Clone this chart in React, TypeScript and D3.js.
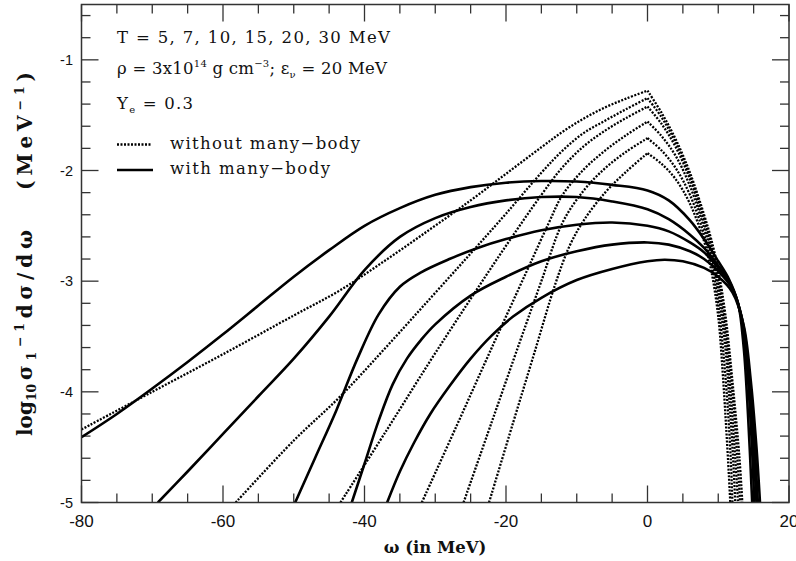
import React from "react";
import * as d3 from "d3";

const W = 796;
const H = 561;

// axis settings
const xDomain = [-80, 20];
const yDomain = [-5, -0.5];
const xMajor = [-80, -60, -40, -20, 0, 20];
const yMajor = [-5, -4, -3, -2, -1];

// temperatures labelled in the legend (MeV)
const temps = [5, 7, 10, 15, 20, 30];

// without many-body: [omega, log10 value]; left branch rises to the cusp at omega = 0, right branch falls from it
const freeT30L = [[-80, -4.34], [-70, -4.0], [-60, -3.66], [-50, -3.31], [-43.4, -3.08], [-37, -2.81], [-30.7, -2.53], [-25, -2.27], [-20, -2.03], [-15, -1.79], [-12, -1.65], [-9, -1.53], [-6, -1.43], [-3, -1.35], [0, -1.278]];
const freeT30R = [[0, -1.278], [2, -1.48], [4, -1.72], [6, -2.02], [8, -2.4], [9, -2.62], [10, -2.9], [11, -3.3], [12, -3.9], [13, -4.6], [13.4, -5]];
const freeT20L = [[-58.2, -5], [-50, -4.44], [-43.4, -4.04], [-37, -3.6], [-30.7, -3.155], [-25, -2.75], [-20, -2.39], [-15, -2.02], [-12, -1.82], [-9, -1.66], [-6, -1.55], [-3, -1.445], [0, -1.346]];
const freeT20R = [[0, -1.346], [2, -1.52], [4, -1.75], [6, -2.05], [8, -2.43], [9, -2.66], [10, -2.96], [11, -3.38], [12, -4.0], [12.7, -4.6], [13.1, -5]];
const freeT15L = [[-43.4, -5], [-37, -4.36], [-30.7, -3.72], [-25, -3.16], [-20, -2.68], [-15, -2.22], [-12, -1.97], [-9, -1.78], [-6, -1.64], [-3, -1.525], [0, -1.422]];
const freeT15R = [[0, -1.422], [2, -1.58], [4, -1.79], [6, -2.08], [8, -2.47], [9, -2.7], [10, -3.02], [11, -3.48], [11.8, -4.05], [12.4, -4.6], [12.8, -5]];
const freeT10L = [[-31.9, -5], [-27, -4.31], [-22, -3.6], [-17, -2.9], [-14, -2.48], [-12, -2.22], [-9, -1.99], [-6, -1.82], [-3, -1.68], [0, -1.558]];
const freeT10R = [[0, -1.558], [2, -1.69], [4, -1.87], [6, -2.14], [8, -2.52], [9, -2.75], [10, -3.1], [11, -3.6], [11.6, -4.1], [12.1, -4.6], [12.4, -5]];
const freeT7L = [[-26, -5], [-22, -4.27], [-18, -3.54], [-15, -3.0], [-12, -2.47], [-9, -2.18], [-6, -1.98], [-3, -1.83], [0, -1.708]];
const freeT7R = [[0, -1.708], [2, -1.82], [4, -1.98], [6, -2.22], [8, -2.58], [9, -2.82], [10, -3.2], [10.8, -3.7], [11.4, -4.2], [11.8, -4.65], [12, -5]];
const freeT5L = [[-22.4, -5], [-19, -4.28], [-16, -3.65], [-13, -3.02], [-11, -2.68], [-9, -2.45], [-6, -2.2], [-3, -2.01], [0, -1.844]];
const freeT5R = [[0, -1.844], [2, -1.94], [4, -2.08], [6, -2.3], [8, -2.64], [9, -2.9], [10, -3.32], [10.6, -3.8], [11.1, -4.3], [11.5, -4.75], [11.7, -5]];

// with many-body: [omega, log10 value]
const mbA = [[-80, -4.41], [-75, -4.2], [-70, -3.97], [-65, -3.73], [-60, -3.48], [-55, -3.22], [-50, -2.96], [-45, -2.72], [-40, -2.5], [-35, -2.34], [-30, -2.22], [-25, -2.15], [-20, -2.11], [-15, -2.095], [-10, -2.1], [-5, -2.13], [0, -2.18], [3, -2.27], [6, -2.45], [8, -2.62], [10, -2.82], [11.5, -2.98], [12.8, -3.2], [13.6, -3.6], [14.2, -4.2], [14.8, -5]];
const mbB = [[-69.2, -5], [-65, -4.72], [-60, -4.38], [-55, -4.04], [-50, -3.7], [-45, -3.32], [-40, -2.9], [-35, -2.6], [-30, -2.43], [-25, -2.33], [-20, -2.27], [-15, -2.24], [-10, -2.24], [-5, -2.28], [0, -2.35], [3, -2.44], [6, -2.58], [8, -2.7], [10, -2.86], [11.7, -3.02], [13, -3.25], [13.9, -3.65], [14.6, -4.3], [15.1, -5]];
const mbC = [[-49.8, -5], [-47, -4.6], [-44, -4.17], [-41, -3.7], [-38, -3.3], [-35, -3.05], [-32, -2.92], [-28, -2.8], [-24, -2.7], [-20, -2.62], [-15, -2.54], [-10, -2.49], [-5, -2.47], [0, -2.5], [3, -2.55], [6, -2.65], [8, -2.74], [10, -2.88], [11.8, -3.04], [13.2, -3.3], [14.2, -3.75], [14.9, -4.4], [15.4, -5]];
const mbD = [[-41.8, -5], [-40, -4.65], [-38, -4.26], [-36, -3.93], [-34, -3.7], [-32, -3.53], [-30, -3.39], [-25, -3.13], [-20, -2.96], [-15, -2.82], [-10, -2.73], [-5, -2.67], [0, -2.65], [3, -2.67], [6, -2.73], [8, -2.8], [10, -2.91], [12, -3.07], [13.4, -3.35], [14.4, -3.85], [15.1, -4.45], [15.6, -5]];
const mbE = [[-36.8, -5], [-35, -4.72], [-33, -4.46], [-30.7, -4.2], [-28, -3.95], [-25, -3.7], [-22, -3.49], [-19, -3.32], [-15, -3.15], [-10, -2.99], [-5, -2.89], [0, -2.82], [2.4, -2.806], [5, -2.82], [8, -2.88], [10, -2.96], [12, -3.1], [13.6, -3.4], [14.6, -3.9], [15.4, -4.5], [15.9, -5]];

const freeCurves = [
  [freeT30L, freeT30R],
  [freeT20L, freeT20R],
  [freeT15L, freeT15R],
  [freeT10L, freeT10R],
  [freeT7L, freeT7R],
  [freeT5L, freeT5R],
];
const mbCurves = [mbA, mbB, mbC, mbD, mbE];

const left = 81.5;
const right = 789;
const top = 4.5;
const bottom = 502.5;

const serif = "'DejaVu Serif', serif";
const sans = "'Liberation Sans', Arial, sans-serif";
const dots = "2 1.5";

export default function App() {
  const x = d3.scaleLinear().domain(xDomain).range([left, right]);
  const y = d3.scaleLinear().domain(yDomain).range([bottom, top]);
  const line = d3
    .line<number[]>()
    .x((d) => x(d[0]))
    .y((d) => y(d[1]))
    .curve(d3.curveCatmullRom.alpha(0.5));

  const xMinor = d3.range(xDomain[0], xDomain[1] + 0.001, 5);
  const yMinor = d3.range(-5, -0.5 + 0.001, 0.2).map((v) => Math.round(v * 10) / 10);
  const axisColor = "#333";

  return (
    <svg width={W} height={H} style={{ position: "absolute", left: 0, top: 0, background: "#fff" }}>
      <defs>
        <clipPath id="plotArea">
          <rect x={left} y={top} width={right - left} height={bottom - top} />
        </clipPath>
      </defs>

      {/* ticks on all four sides */}
      <g stroke={axisColor} strokeWidth={1.3}>
        {xMinor.map((v) => {
          const major = xMajor.includes(v);
          const len = major ? 17 : 9;
          return (
            <g key={"xt" + v}>
              <line x1={x(v)} x2={x(v)} y1={bottom} y2={bottom - len} />
              <line x1={x(v)} x2={x(v)} y1={top} y2={top + len} />
            </g>
          );
        })}
        {yMinor.map((v) => {
          const major = yMajor.some((m) => Math.abs(m - v) < 1e-6);
          const len = major ? 17 : 9;
          return (
            <g key={"yt" + v}>
              <line x1={left} x2={left + len} y1={y(v)} y2={y(v)} />
              <line x1={right} x2={right - len} y1={y(v)} y2={y(v)} />
            </g>
          );
        })}
      </g>

      {/* tick labels */}
      <g fontFamily={sans} fill="#111">
        {xMajor.map((v) => (
          <text key={"xl" + v} x={x(v)} y={527} fontSize={17} textAnchor="middle">
            {v}
          </text>
        ))}
        {yMajor.map((v) => (
          <text key={"yl" + v} x={73} y={y(v) + 5} fontSize={14.5} textAnchor="end">
            {v}
          </text>
        ))}
      </g>

      {/* curves */}
      <g clipPath="url(#plotArea)" fill="none" stroke="#000">
        {freeCurves.map((branches, i) => (
          <path
            key={"free" + temps[temps.length - 1 - i]}
            d={(line(branches[0]) || "") + (line(branches[1]) || "")}
            strokeWidth={2.3}
            strokeDasharray={dots}
          />
        ))}
        {mbCurves.map((c, i) => (
          <path key={"mb" + i} d={line(c) || ""} strokeWidth={2.6} strokeLinejoin="round" />
        ))}
      </g>

      {/* frame */}
      <rect x={left} y={top} width={right - left} height={bottom - top} fill="none" stroke={axisColor} strokeWidth={1.5} />

      {/* annotations */}
      <g fontFamily={serif} fill="#111" fontSize={16.5}>
        <text x={117} y={43} textLength={273} lengthAdjust="spacing">
          T = {temps.join(", ")} MeV
        </text>
        <text x={117} y={74} textLength={270} lengthAdjust="spacing">
          ρ = 3x10
          <tspan dy={-7} fontSize={10}>14</tspan>
          <tspan dy={7}> g cm</tspan>
          <tspan dy={-7} fontSize={10}>−3</tspan>
          <tspan dy={7}>; ε</tspan>
          <tspan dy={4} fontSize={10}>ν</tspan>
          <tspan dy={-4}> = 20 MeV</tspan>
        </text>
        <text x={117} y={109} textLength={76} lengthAdjust="spacing">
          Y
          <tspan dy={4} fontSize={10}>e</tspan>
          <tspan dy={-4}> = 0.3</tspan>
        </text>
        <line x1={117} x2={152} y1={144.5} y2={144.5} stroke="#000" strokeWidth={2.3} strokeDasharray={dots} />
        <text x={170} y={149} textLength={190} lengthAdjust="spacing">without many−body</text>
        <line x1={117} x2={153} y1={170} y2={170} stroke="#000" strokeWidth={2.6} />
        <text x={170} y={174} textLength={160} lengthAdjust="spacing">with many−body</text>
      </g>

      {/* axis titles */}
      <text x={435} y={553} fontFamily={serif} fontSize={16.5} fontWeight="bold" textAnchor="middle" fill="#111">
        ω (in MeV)
      </text>
      <g transform="translate(32,0) rotate(-90)" fontFamily={serif} fontWeight="bold" fill="#111" fontSize={20}>
        <text x={-436} y={0}>
          log
          <tspan dy={4} fontSize={12.5}>10</tspan>
        </text>
        <text x={-380} y={0} textLength={150} lengthAdjust="spacing">
          σ
          <tspan dy={4} fontSize={12.5}>1</tspan>
          <tspan dy={-12} fontSize={12.5}>−1</tspan>
          <tspan dy={8}>dσ/dω</tspan>
        </text>
        <text x={-190} y={0} textLength={118} lengthAdjust="spacing">
          (MeV
          <tspan dy={-8} fontSize={12.5}>−1</tspan>
          <tspan dy={8}>)</tspan>
        </text>
      </g>
    </svg>
  );
}
